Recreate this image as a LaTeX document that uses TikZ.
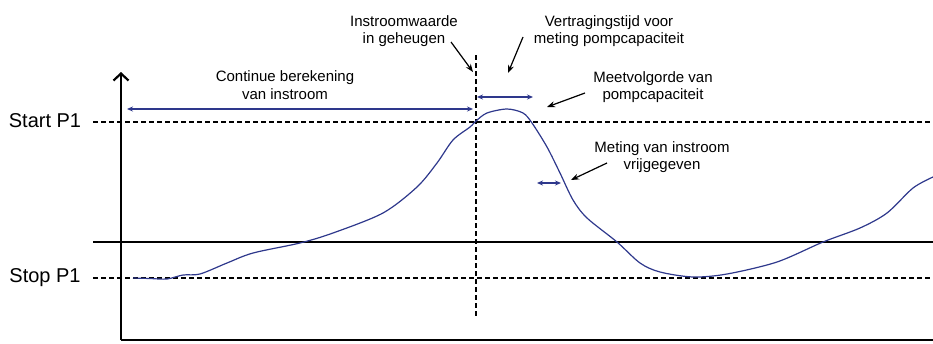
\documentclass[tikz,border=0pt]{standalone}
\usepackage{fontspec}
\setmainfont{Liberation Sans}
\usetikzlibrary{arrows.meta}
\definecolor{curveblue}{RGB}{46,56,140}

\begin{document}
\begin{tikzpicture}[x=1pt, y=-1pt,
    lbl/.style={align=center, font=\fontsize{15}{17.5}\selectfont, inner sep=0pt},
    lvl/.style={font=\fontsize{20}{22}\selectfont, inner sep=0pt},
    dsh/.style={line width=1.1pt, dash pattern=on 5pt off 3pt},
    span/.style={curveblue, line width=1.3pt, {Stealth[length=6pt,width=5pt]}-{Stealth[length=6pt,width=5pt]}},
    pointer/.style={line width=1.2pt, -{Stealth[length=8pt,width=6pt]}}]
    \useasboundingbox (0,0) rectangle (933,343);
        \node[lvl] (start) at (45,121) {Start P1};
        \node[lvl] (stop) at (45,278) {Stop P1};
        \coordinate (S1) at (93,122);
        \coordinate (S2) at (933,122);
        \coordinate (T1) at (93,278);
        \coordinate (T2) at (933,278);
        \coordinate (M1) at (93,242);
        \coordinate (M2) at (933,242);
        \coordinate (O) at (121,340);
        \coordinate (Y) at (121,72);
        \coordinate (X) at (933,340);
        \coordinate (V1) at (476,55);
        \coordinate (V2) at (476,318);
        \draw[dsh] (S1) to (S2);
        \draw[dsh] (T1) to (T2);
        \draw[line width=1.1pt] (M1) to (M2);
        \draw[dsh] (V1) to (V2);
        \draw[line width=2.6pt, -{Straight Barb[length=7pt,width=15pt,line width=2.2pt]}] (O) to (Y);
        \draw[line width=2.6pt] (O) to (X);
        \draw[curveblue, line width=1.2pt] plot[smooth, tension=0.5] coordinates {
            (133,278) (150,278.5) (167,279) (183,275) (200,274) (227,263) (253,253)
            (300,243) (333,233) (383,213) (417,187) (437,163) (453,140) (470,127)
            (476,121) (487,113) (507,109) (523,113) (532,123) (547,147) (560,173)
            (573,200) (587,218) (617,242) (640,263) (660,272) (693,277) (727,274)
            (777,262) (823,242) (860,228) (887,213) (913,188) (933,177)};
        \node[lbl] (cont) at (285,85) {Continue berekening\\van instroom};
        \node[lbl] (mem) at (404,31) {Instroomwaarde\\in geheugen};
        \node[lbl] (delay) at (609,31) {Vertragingstijd voor\\meting pompcapaciteit};
        \node[lbl] (seq) at (653,87) {Meetvolgorde van\\pompcapaciteit};
        \node[lbl] (rel) at (662,157) {Meting van instroom\\vrijgegeven};
        \coordinate (C1) at (127,109);
        \coordinate (C2) at (473,109);
        \coordinate (D1) at (477,97);
        \coordinate (D2) at (533,97);
        \coordinate (R1) at (537,183);
        \coordinate (R2) at (561,183);
        \draw[span] (C1) to (C2);
        \draw[span] (D1) to (D2);
        \draw[span] (R1) to (R2);
        \coordinate (A1) at (451,42);
        \coordinate (A2) at (473,72);
        \coordinate (B1) at (523,37);
        \coordinate (B2) at (508,73);
        \coordinate (E1) at (585,93);
        \coordinate (E2) at (547,107);
        \coordinate (F1) at (607,163);
        \coordinate (F2) at (571,180);
        \draw[pointer] (A1) to (A2);
        \draw[pointer] (B1) to (B2);
        \draw[pointer] (E1) to (E2);
        \draw[pointer] (F1) to (F2);
    \end{tikzpicture}
\end{document}
